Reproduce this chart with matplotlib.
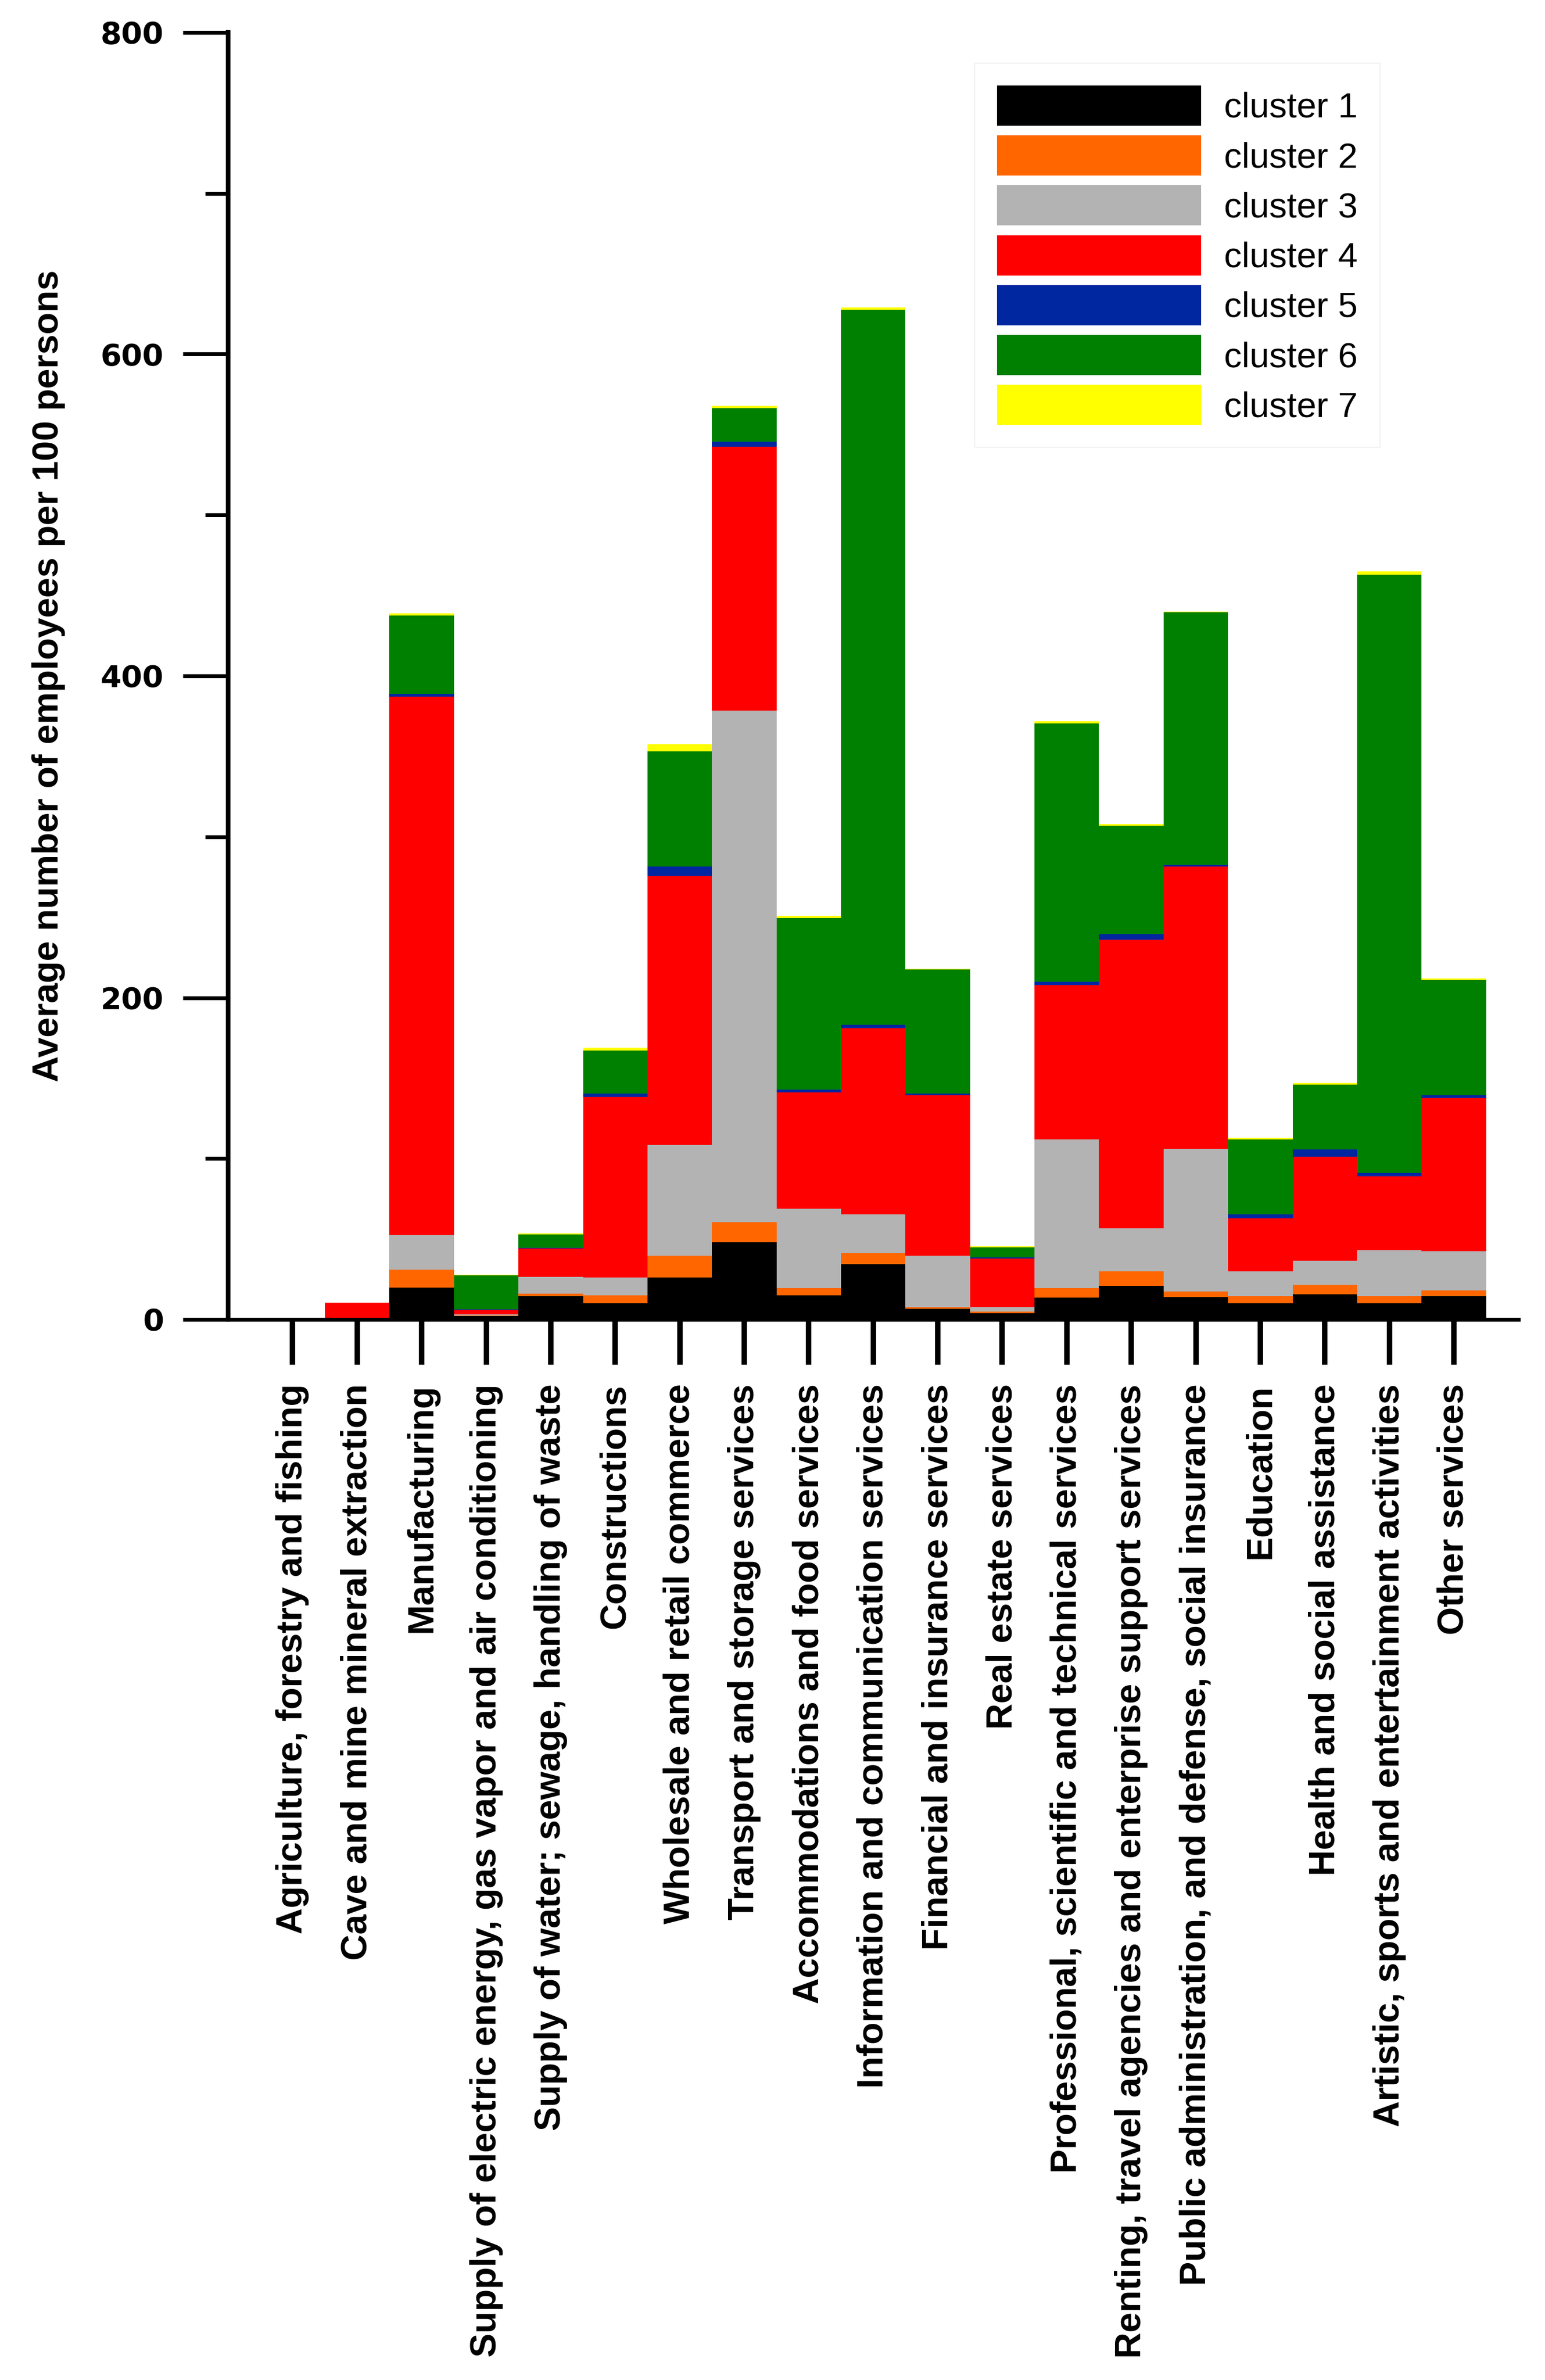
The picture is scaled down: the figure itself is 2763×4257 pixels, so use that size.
import numpy as np
import matplotlib.pyplot as plt
from matplotlib.ticker import MultipleLocator

sectors = [
    'Agriculture, forestry and fishing',
    'Cave and mine mineral extraction',
    'Manufacturing',
    'Supply of electric energy, gas vapor and air conditioning',
    'Supply of water; sewage, handling of waste',
    'Constructions',
    'Wholesale and retail commerce',
    'Transport and storage services',
    'Accommodations and food services',
    'Information and communication services',
    'Financial and insurance services',
    'Real estate services',
    'Professional, scientific and technical services',
    'Renting, travel agencies and enterprise support services',
    'Public administration, and defense, social insurance',
    'Education',
    'Health and social assistance',
    'Artistic, sports and entertainment activities',
    'Other services',
]

# segment heights per cluster
cluster1 = [0.6, 0.3, 20, 2, 14.5, 10, 26, 48, 15, 34.5, 6.5, 4, 13.5, 21, 14, 10, 15.5, 10, 14.5]
cluster2 = [0, 0, 11, 0.5, 1.5, 5, 13.5, 12.5, 4.5, 7, 1, 1, 6, 9, 3.5, 4.5, 6, 4.5, 3.5]
cluster3 = [0.6, 0, 21.5, 0.5, 10.5, 11, 69, 318, 49.5, 24, 32, 2.5, 92.5, 26.5, 88.5, 15.5, 15, 28.5, 24.5]
cluster4 = [0, 10.2, 334.5, 3, 17.5, 112.5, 167, 164, 72, 115.5, 100, 30.5, 96, 179.5, 175.5, 33, 64.5, 46, 95]
cluster5 = [0, 0, 2, 0.3, 0.5, 2, 6, 3, 2, 2, 1, 0.5, 2, 3.5, 1, 2.5, 4.5, 2, 2]
cluster6 = [0, 0, 48.5, 21.2, 8.5, 26.5, 71.5, 21, 106.5, 444.5, 77, 6.5, 160.5, 67.5, 157, 46.5, 40.5, 372, 71.5]
cluster7 = [0, 0, 1.5, 0.2, 0.5, 2, 4.5, 1.5, 1.5, 1.5, 0.5, 0.5, 1.5, 1, 0.5, 1, 1, 2, 1]

series = [cluster1, cluster2, cluster3, cluster4, cluster5, cluster6, cluster7]
names = ['cluster 1', 'cluster 2', 'cluster 3', 'cluster 4', 'cluster 5', 'cluster 6', 'cluster 7']
colors = ['#000000', '#FF6600', '#B3B3B3', '#FF0000', '#0026A0', '#008000', '#FFFF00']

fig = plt.figure(figsize=(27.63, 42.57), dpi=100)
ax = fig.add_axes([0.1477, 0.4456, 0.8363, 0.5408])

x = np.arange(len(sectors))
bottom = np.zeros(len(sectors))
for vals, name, col in zip(series, names, colors):
    vals = np.array(vals, dtype=float)
    ax.bar(x, vals, width=1.0, bottom=bottom, color=col, label=name, linewidth=0)
    bottom += vals

ax.set_xlim(-1, 19.03)
ax.set_ylim(0, 800)

for s in ['top', 'right']:
    ax.spines[s].set_visible(False)
ax.spines['left'].set_linewidth(6)
ax.spines['bottom'].set_linewidth(5)
ax.spines['bottom'].set_capstyle('butt')

ax.yaxis.set_major_locator(MultipleLocator(200))
ax.yaxis.set_minor_locator(MultipleLocator(100))
ax.tick_params(axis='y', which='major', length=58, width=5, pad=25)
ax.tick_params(axis='y', which='minor', length=29.5, width=5)
ax.set_yticks([0, 200, 400, 600, 800])
ax.set_yticklabels(['0', '200', '400', '600', '800'],
                   fontfamily='DejaVu Sans', fontweight='bold', fontsize=39)

ax.set_xticks(x)
ax.set_xticklabels(sectors, rotation=90, ha='center', va='top',
                   fontfamily='Liberation Sans', fontweight='bold', fontsize=46.5)
ax.tick_params(axis='x', which='major', length=58, width=7, pad=25)

ax.set_ylabel('Average number of employees per 100 persons',
              fontfamily='Liberation Sans', fontweight='bold', fontsize=46.5)
ax.yaxis.set_label_coords(-0.126, 0.5)

leg = ax.legend(loc='upper left', bbox_to_anchor=(1743 / 2763, 1 - 113 / 4257),
                bbox_transform=fig.transFigure,
                prop={'family': 'Liberation Sans', 'size': 45.5},
                handlelength=5.78, handleheight=1.38, handletextpad=0.65,
                labelspacing=0.27, borderpad=0.63, borderaxespad=0,
                frameon=True, fancybox=False)
leg.get_frame().set_edgecolor('#EEEEEE')
leg.get_frame().set_linewidth(1.5)

fig.savefig('out.png', dpi=100)
